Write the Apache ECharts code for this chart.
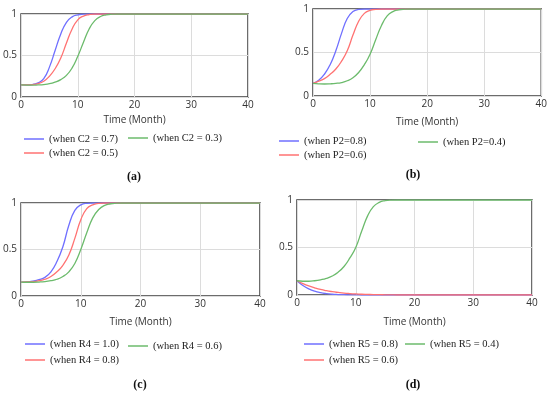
<!DOCTYPE html>
<html>
<head>
<meta charset="utf-8">
<script src="https://cdn.jsdelivr.net/npm/echarts@6/dist/echarts.min.js"></script>
<style>html,body{margin:0;padding:0;background:#fff}#c{width:550px;height:394px}</style>
</head>
<body>
<div id="c"></div>
<script>
// Time points (months)
var time = [0,1,2,3,4,5,6,7,8,9,10,11,12,13,14,15,16,17,18,19,20,25,30,35,40];
var xTicks = [0,10,20,30,40];
var yTicks = [0,0.5,1];

// (a)
var namesA = ['(when C2 = 0.7)','(when C2 = 0.5)','(when C2 = 0.3)'];
var aC07 = [0.145,0.146,0.15,0.17,0.22,0.36,0.56,0.76,0.9,0.965,0.99,0.998,1,1,1,1,1,1,1,1,1,1,1,1,1];
var aC05 = [0.145,0.146,0.15,0.16,0.19,0.25,0.34,0.47,0.65,0.82,0.93,0.975,0.993,1,1,1,1,1,1,1,1,1,1,1,1];
var aC03 = [0.145,0.143,0.142,0.145,0.15,0.16,0.18,0.21,0.26,0.35,0.49,0.66,0.82,0.92,0.97,0.99,0.998,1,1,1,1,1,1,1,1];
// (b)
var namesB = ['(when P2=0.8)','(when P2=0.6)','(when P2=0.4)'];
var bP08 = [0.145,0.18,0.25,0.36,0.52,0.72,0.89,0.97,0.995,1,1,1,1,1,1,1,1,1,1,1,1,1,1,1,1];
var bP06 = [0.145,0.17,0.2,0.25,0.31,0.4,0.52,0.7,0.86,0.95,0.985,0.996,1,1,1,1,1,1,1,1,1,1,1,1,1];
var bP04 = [0.145,0.14,0.138,0.14,0.145,0.155,0.175,0.21,0.27,0.36,0.48,0.65,0.81,0.92,0.97,0.99,0.998,1,1,1,1,1,1,1,1];
// (c)
var namesC = ['(when R4 = 1.0)','(when R4 = 0.8)','(when R4 = 0.6)'];
var cR10 = [0.15,0.152,0.16,0.175,0.2,0.26,0.37,0.53,0.76,0.92,0.98,0.997,1,1,1,1,1,1,1,1,1,1,1,1,1];
var cR08 = [0.15,0.151,0.155,0.165,0.18,0.21,0.26,0.33,0.44,0.62,0.82,0.94,0.98,0.995,1,1,1,1,1,1,1,1,1,1,1];
var cR06 = [0.15,0.148,0.148,0.15,0.155,0.165,0.18,0.21,0.26,0.35,0.5,0.68,0.84,0.93,0.975,0.992,0.998,1,1,1,1,1,1,1,1];
// (d)
var namesD = ['(when R5 = 0.8)','(when R5 = 0.6)','(when R5 = 0.4)'];
var dR08 = [0.15,0.1,0.065,0.04,0.024,0.014,0.008,0.005,0.003,0.002,0.001,0,0,0,0,0,0,0,0,0,0,0,0,0,0];
var dR06 = [0.15,0.12,0.095,0.075,0.058,0.045,0.035,0.027,0.02,0.015,0.011,0.008,0.006,0.004,0.003,0.002,0.001,0,0,0,0,0,0,0,0];
var dR04 = [0.15,0.145,0.145,0.15,0.16,0.175,0.2,0.24,0.3,0.39,0.5,0.67,0.83,0.93,0.975,0.993,0.999,1,1,1,1,1,1,1,1];

var axisTitle = 'Time (Month)';
var captions = ['(a)','(b)','(c)','(d)'];

var colors = ['#6f6fff','#ff7272','#6cbb6c'];

var panels = [
  {grid:{left:20,top:14,width:228,height:83}, nameGap:18, names:namesA, data:[aC07,aC05,aC03],
   leg:[[24,132],[24,146],[128,131]], cap:[134,177]},
  {grid:{left:313,top:9,width:229,height:87}, nameGap:21, names:namesB, data:[bP08,bP06,bP04],
   leg:[[279,134],[279,148],[418,135]], cap:[413,175]},
  {grid:{left:19,top:203,width:241,height:93}, nameGap:21, names:namesC, data:[cR10,cR08,cR06],
   leg:[[25,337],[25,353],[128,339]], cap:[140,385]},
  {grid:{left:297,top:200,width:235,height:95}, nameGap:22, names:namesD, data:[dR08,dR06,dR04],
   leg:[[304,337],[304,353],[405,337]], cap:[413,385]}
];

var option = {
  animation:false,
  backgroundColor:'#fff',
  grid:[], xAxis:[], yAxis:[], series:[], legend:[], graphic:[]
};

panels.forEach(function(p, k){
  option.grid.push(Object.assign({show:true, borderColor:'#3c3c3c', borderWidth:1.5, containLabel:false}, p.grid));
  option.xAxis.push({
    type:'value', gridIndex:k, min:xTicks[0], max:xTicks[xTicks.length-1], interval:xTicks[1]-xTicks[0],
    name:axisTitle, nameLocation:'middle', nameGap:p.nameGap,
    nameTextStyle:{fontFamily:'Open Sans', fontSize:10, color:'#333'},
    axisLine:{show:false}, axisTick:{show:false},
    axisLabel:{fontFamily:'Open Sans', fontSize:10, color:'#333', margin:3},
    splitLine:{show:true, lineStyle:{color:'#dcdcdc', width:1}}
  });
  option.yAxis.push({
    type:'value', gridIndex:k, min:yTicks[0], max:yTicks[yTicks.length-1], interval:yTicks[1]-yTicks[0],
    axisLine:{show:false}, axisTick:{show:false},
    axisLabel:{fontFamily:'Open Sans', fontSize:10, color:'#333', margin:4},
    splitLine:{show:true, lineStyle:{color:'#dcdcdc', width:1}}
  });
  p.data.forEach(function(arr, j){
    option.series.push({
      type:'line', name:p.names[j], xAxisIndex:k, yAxisIndex:k,
      data: time.map(function(t,i){return [t, arr[i]];}),
      showSymbol:false, smooth:0.5,
      color:colors[j], lineStyle:{color:colors[j], width:1.3}, z:3
    });
    option.legend.push({
      data:[p.names[j]], left:p.leg[j][0], top:p.leg[j][1], padding:0,
      icon:'rect', itemWidth:20, itemHeight:1.5, selectedMode:false,
      textStyle:{fontFamily:'Liberation Serif', fontSize:10.5, color:'#222', lineHeight:14}
    });
  });
  option.graphic.push({
    type:'text', x:p.cap[0], y:p.cap[1],
    style:{text:captions[k], font:'bold 12px "Liberation Serif"', fill:'#111', textAlign:'center', textVerticalAlign:'middle'}
  });
});

var chart = echarts.init(document.getElementById('c'), null, {renderer:'canvas'});
chart.setOption(option);
</script>
</body>
</html>
